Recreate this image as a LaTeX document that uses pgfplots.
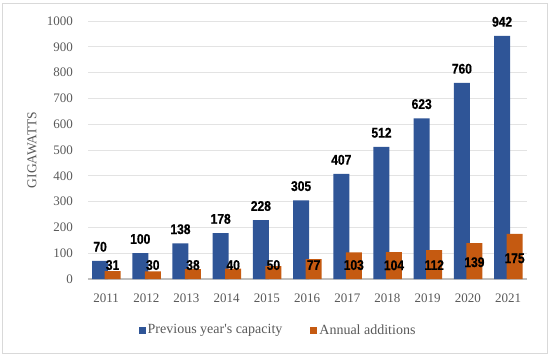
\documentclass[border=0pt]{standalone}
\usepackage{fontspec}
\setmainfont{Liberation Serif}
\newfontfamily\labfont[FakeStretch=0.86,FakeBold=0.6]{Liberation Sans}
\usepackage{pgfplots}
\pgfplotsset{compat=1.18}
\definecolor{cblue}{HTML}{2F5597}
\definecolor{corange}{HTML}{C55A11}
\definecolor{tgray}{HTML}{595959}
\definecolor{ggray}{HTML}{E3E3E3}
\definecolor{agray}{HTML}{BFBFBF}
\begin{document}
\begin{tikzpicture}[x=1pt,y=1pt]
\path[use as bounding box] (-88,-78) rectangle (462,279);
\draw[draw=black!15, line width=1pt] (-85,-74) rectangle (459,276);
\begin{axis}[
  at={(0,0)}, anchor=south west,
  scale only axis, width=439pt, height=258pt,
  ybar, bar width=16pt,
  xmin=-0.45, xmax=10.47, ymin=0, ymax=1000,
  xtick={0,...,10},
  xticklabels={2011,2012,2013,2014,2015,2016,2017,2018,2019,2020,2021},
  ytick={0,100,...,1000},
  axis x line*=bottom, axis y line*=left,
  y axis line style={draw=none},
  x axis line style={draw=agray, line width=1.2pt},
  major tick length=0pt,
  ymajorgrids, grid style={draw=ggray, line width=0.8pt},
  /pgf/number format/assume math mode=true,
  /pgf/number format/1000 sep={},
  ticklabel style={font=\fontsize{13}{15}\selectfont, text=tgray},
  yticklabel style={anchor=east, inner sep=0pt, xshift=-15pt},
  xticklabel style={anchor=center, inner sep=0pt, yshift=-19pt},
  ylabel={GIGAWATTS},
  ylabel style={at={(axis description cs:-0.1276,0.5)}, anchor=center, font=\fontsize{13.5}{15}\selectfont, text=tgray},
  legend columns=2,
  legend style={at={(axis description cs:0.433,-0.198)}, anchor=center, draw=none, fill=none,
    font=\fontsize{14}{16}\selectfont, text=tgray, /tikz/every even column/.append style={column sep=26pt}},
  legend image code/.code={\fill[#1] (0pt,-3.5pt) rectangle (7pt,3.5pt);},
  nodes near coords style={font=\labfont\bfseries\fontsize{14}{14}\selectfont, text=black},
]
\addplot[fill=cblue, draw=none, bar shift=-6pt,
  nodes near coords, every node near coord/.append style={anchor=south, inner sep=0pt, yshift=9pt}]
  coordinates {(0,70) (1,100) (2,138) (3,178) (4,228) (5,305) (6,407) (7,512) (8,623) (9,760) (10,942)};
\addlegendentry{Previous year\textquotesingle s capacity}
\addplot[fill=corange, draw=none, bar shift=6.5pt]
  coordinates {(0,31) (1,30) (2,38) (3,40) (4,50) (5,77) (6,103) (7,104) (8,112) (9,139) (10,175)};
\addlegendentry{Annual additions}
\addplot[draw=none, fill=none, bar shift=6.5pt, forget plot,
  point meta=explicit symbolic, nodes near coords,
  every node near coord/.append style={anchor=center, inner sep=0pt}]
  coordinates {(0,54)[31] (1,54)[30] (2,54)[38] (3,54)[40] (4,54)[50] (5,54)[77] (6,54)[103] (7,53)[104] (8,54)[112] (9,65)[139] (10,80)[175]};
\end{axis}
\end{tikzpicture}
\end{document}
